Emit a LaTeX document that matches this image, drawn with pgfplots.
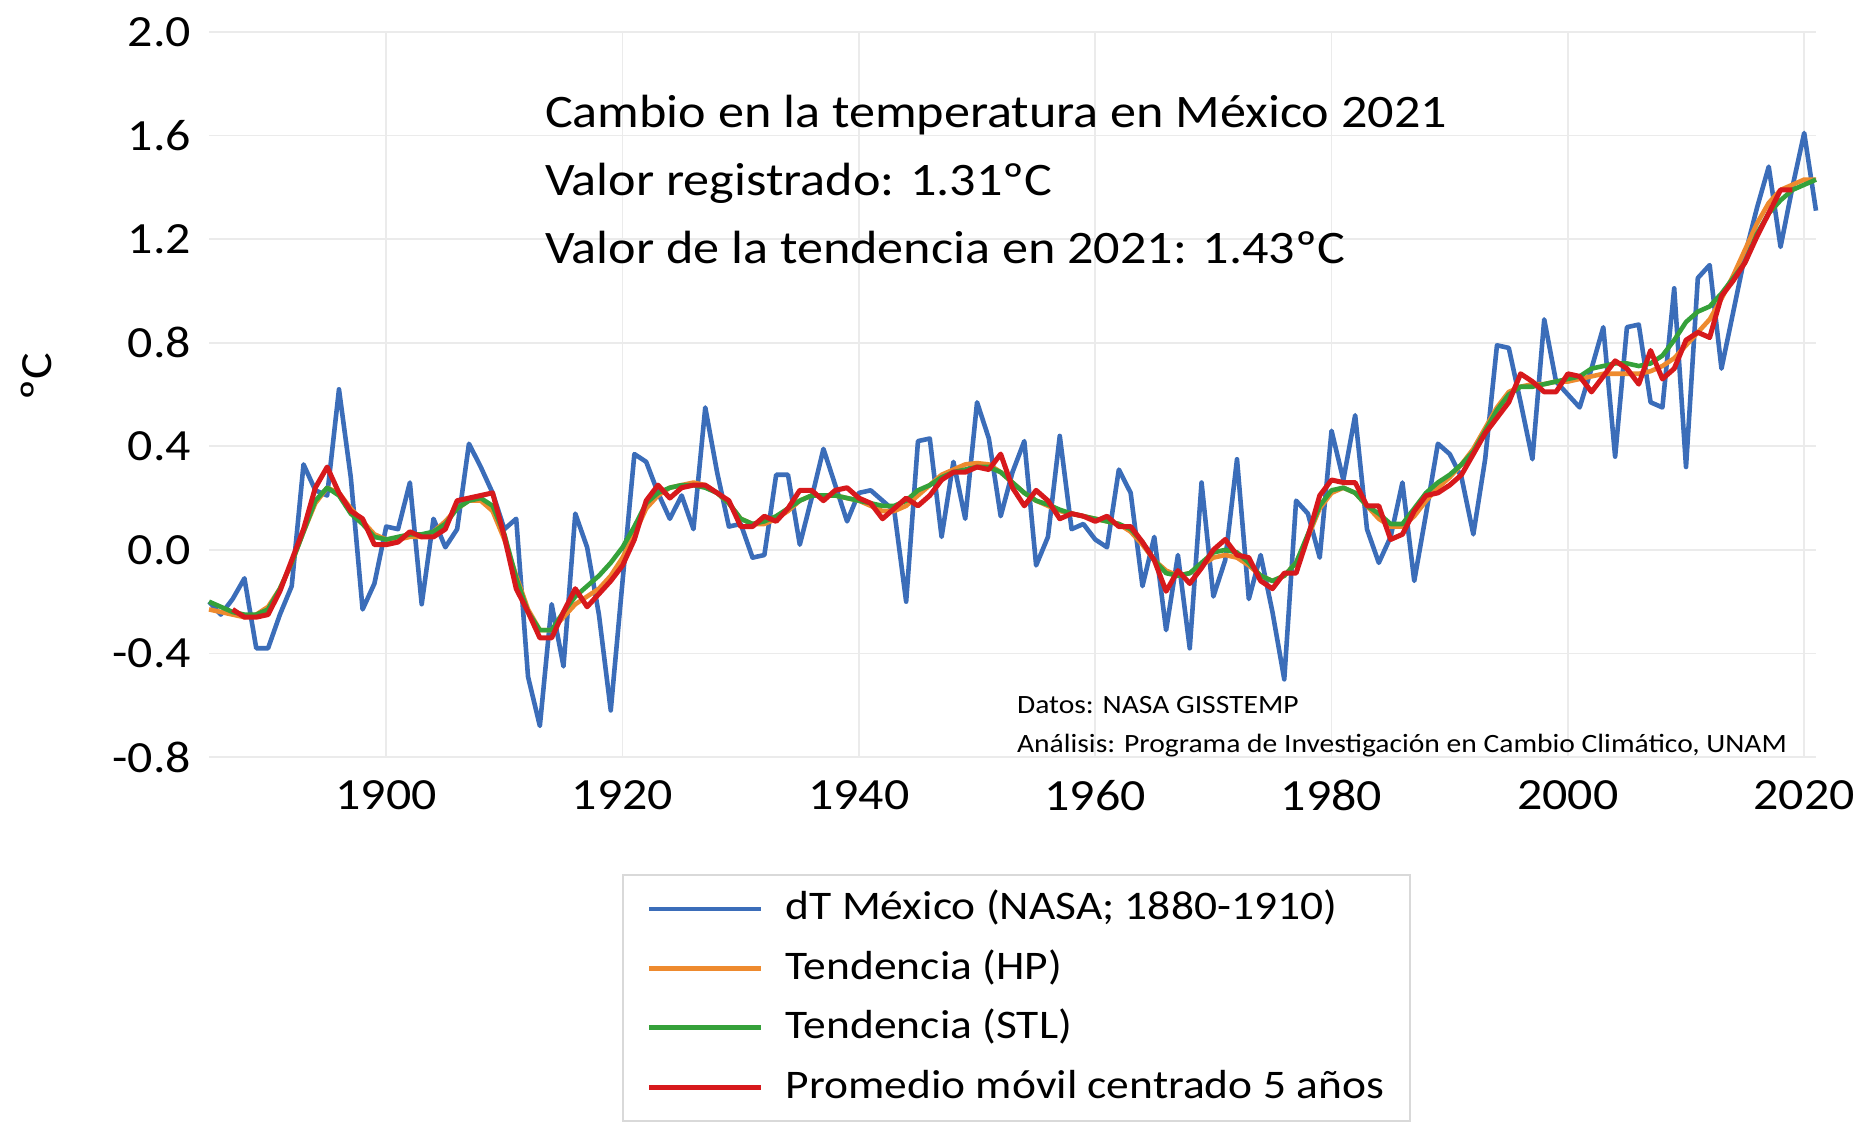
\documentclass[border=0pt]{standalone}
\usepackage{fontspec}
\setmainfont{Carlito}[FakeStretch=1.12]
\usepackage{pgfplots}
\usepackage{pgfplotstable}
\pgfplotsset{compat=1.18}
\definecolor{cblue}{HTML}{3B6DB9}
\definecolor{corange}{HTML}{EE8A2E}
\definecolor{cgreen}{HTML}{35A13A}
\definecolor{cred}{HTML}{D7191C}
\pgfplotstableread{
year dt hp stl ma
1885 -0.20 -0.23 -0.20 nan
1886 -0.25 -0.24 -0.22 nan
1887 -0.19 -0.25 -0.24 -0.23
1888 -0.11 -0.26 -0.25 -0.26
1889 -0.38 -0.25 -0.25 -0.26
1890 -0.38 -0.22 -0.23 -0.25
1891 -0.25 -0.15 -0.15 -0.16
1892 -0.14 -0.05 -0.05 -0.04
1893 0.33 0.07 0.07 0.08
1894 0.23 0.18 0.19 0.24
1895 0.21 0.24 0.24 0.32
1896 0.62 0.22 0.21 0.22
1897 0.28 0.16 0.14 0.15
1898 -0.23 0.11 0.10 0.12
1899 -0.13 0.06 0.05 0.02
1900 0.09 0.04 0.04 0.02
1901 0.08 0.04 0.05 0.03
1902 0.26 0.05 0.06 0.07
1903 -0.21 0.05 0.06 0.05
1904 0.12 0.07 0.07 0.05
1905 0.01 0.11 0.10 0.08
1906 0.08 0.16 0.16 0.19
1907 0.41 0.19 0.19 0.20
1908 0.32 0.19 0.20 0.21
1909 0.22 0.15 0.17 0.22
1910 0.08 0.04 0.06 0.05
1911 0.12 -0.10 -0.11 -0.15
1912 -0.49 -0.23 -0.24 -0.24
1913 -0.68 -0.31 -0.31 -0.34
1914 -0.21 -0.31 -0.31 -0.34
1915 -0.45 -0.26 -0.24 -0.24
1916 0.14 -0.21 -0.18 -0.15
1917 0.01 -0.18 -0.14 -0.22
1918 -0.25 -0.15 -0.10 -0.17
1919 -0.62 -0.10 -0.05 -0.12
1920 -0.12 -0.03 0.01 -0.06
1921 0.37 0.06 0.09 0.04
1922 0.34 0.16 0.18 0.19
1923 0.22 0.21 0.22 0.25
1924 0.12 0.24 0.24 0.20
1925 0.21 0.25 0.25 0.24
1926 0.08 0.26 0.25 0.25
1927 0.55 0.25 0.24 0.25
1928 0.30 0.22 0.22 0.22
1929 0.09 0.18 0.18 0.19
1930 0.10 0.12 0.12 0.09
1931 -0.03 0.10 0.10 0.09
1932 -0.02 0.10 0.11 0.13
1933 0.29 0.12 0.13 0.11
1934 0.29 0.15 0.16 0.16
1935 0.02 0.19 0.19 0.23
1936 0.20 0.21 0.21 0.23
1937 0.39 0.21 0.21 0.19
1938 0.25 0.21 0.21 0.23
1939 0.11 0.20 0.20 0.24
1940 0.22 0.19 0.19 0.20
1941 0.23 0.17 0.18 0.18
1942 0.19 0.15 0.17 0.12
1943 0.15 0.15 0.17 0.16
1944 -0.20 0.17 0.19 0.20
1945 0.42 0.21 0.23 0.17
1946 0.43 0.25 0.25 0.21
1947 0.05 0.29 0.28 0.27
1948 0.34 0.31 0.30 0.30
1949 0.12 0.33 0.31 0.30
1950 0.57 0.335 0.32 0.32
1951 0.43 0.33 0.32 0.31
1952 0.13 0.30 0.30 0.37
1953 0.30 0.26 0.26 0.24
1954 0.42 0.22 0.22 0.17
1955 -0.06 0.19 0.19 0.23
1956 0.05 0.17 0.175 0.19
1957 0.44 0.15 0.155 0.12
1958 0.08 0.14 0.14 0.14
1959 0.10 0.13 0.13 0.13
1960 0.04 0.12 0.12 0.11
1961 0.01 0.11 0.11 0.13
1962 0.31 0.10 0.10 0.09
1963 0.22 0.07 0.08 0.09
1964 -0.14 0.02 0.03 0.03
1965 0.05 -0.04 -0.04 -0.04
1966 -0.31 -0.08 -0.09 -0.16
1967 -0.02 -0.10 -0.10 -0.08
1968 -0.38 -0.09 -0.09 -0.13
1969 0.26 -0.06 -0.05 -0.07
1970 -0.18 -0.03 -0.01 0.00
1971 -0.04 -0.02 0.00 0.04
1972 0.35 -0.03 -0.01 -0.02
1973 -0.19 -0.06 -0.05 -0.03
1974 -0.02 -0.10 -0.10 -0.12
1975 -0.24 -0.12 -0.12 -0.15
1976 -0.50 -0.10 -0.10 -0.09
1977 0.19 -0.05 -0.05 -0.09
1978 0.14 0.05 0.06 0.05
1979 -0.03 0.16 0.17 0.21
1980 0.46 0.22 0.23 0.27
1981 0.27 0.24 0.24 0.26
1982 0.52 0.22 0.22 0.26
1983 0.08 0.17 0.17 0.17
1984 -0.05 0.12 0.14 0.17
1985 0.05 0.09 0.10 0.04
1986 0.26 0.09 0.10 0.06
1987 -0.12 0.13 0.16 0.15
1988 0.14 0.19 0.22 0.21
1989 0.41 0.24 0.26 0.22
1990 0.37 0.28 0.29 0.25
1991 0.28 0.33 0.33 0.29
1992 0.06 0.39 0.38 0.37
1993 0.35 0.47 0.46 0.45
1994 0.79 0.55 0.54 0.51
1995 0.78 0.61 0.60 0.57
1996 0.57 0.63 0.63 0.68
1997 0.35 0.64 0.63 0.65
1998 0.89 0.64 0.64 0.61
1999 0.65 0.65 0.65 0.61
2000 0.60 0.65 0.66 0.68
2001 0.55 0.66 0.67 0.67
2002 0.70 0.67 0.70 0.61
2003 0.86 0.68 0.71 0.67
2004 0.36 0.68 0.72 0.73
2005 0.86 0.68 0.72 0.70
2006 0.87 0.68 0.71 0.64
2007 0.57 0.69 0.72 0.77
2008 0.55 0.71 0.75 0.66
2009 1.01 0.74 0.81 0.70
2010 0.32 0.79 0.88 0.81
2011 1.05 0.84 0.92 0.84
2012 1.10 0.89 0.94 0.82
2013 0.70 0.97 0.99 0.98
2014 0.92 1.06 1.05 1.04
2015 1.14 1.16 1.11 1.11
2016 1.32 1.26 1.22 1.21
2017 1.48 1.34 1.30 1.30
2018 1.17 1.39 1.35 1.39
2019 1.40 1.41 1.39 1.39
2020 1.61 1.43 1.41 nan
2021 1.31 1.43 1.43 nan
}\datatable
\begin{document}
\begin{tikzpicture}
\useasboundingbox (0pt,0pt) rectangle (935pt,560.5pt);
\clip (0pt,0pt) rectangle (935pt,560.5pt);
\begin{axis}[
  scale only axis,
  width=803.5pt, height=362.5pt,
  at={(104.5pt,182pt)}, anchor=south west,
  xmin=1885, xmax=2021,
  ymin=-0.8, ymax=2.0,
  xtick={1900,1920,1940,1960,1980,2000,2020},
  xticklabels={1900,1920,1940,1960,1980,2000,2020},
  ytick={-0.8,-0.4,0,0.4,0.8,1.2,1.6,2.0},
  yticklabels={-0.8,-0.4,0.0,0.4,0.8,1.2,1.6,2.0},
  axis line style={draw=none},
  major tick length=0pt,
  grid=major,
  major grid style={color=black!8, line width=0.9pt},
  tick label style={font=\fontsize{22.3}{26}\selectfont, text=black},
  xticklabel style={yshift=-8pt},
  yticklabel style={xshift=-5.5pt},
  ylabel={ºC},
  every axis y label/.style={at={(axis description cs:-0.1077,0.525)}, rotate=90, anchor=center, font=\fontsize{22.3}{26}\selectfont},
  clip=false,
  legend cell align=left,
  legend image code/.code={\draw[#1] (0pt,0pt) -- (56pt,0pt);},
  legend style={
    at={(axis description cs:0.257,-0.1614)}, anchor=north west,
    draw=black!15, line width=0.8pt,
    font=\fontsize{20.3}{24}\selectfont,
    inner xsep=12pt, inner ysep=5.5pt,
    row sep=6.7pt, column sep=10pt,
    nodes={inner sep=1pt, text height=16pt, text depth=5pt},
  },
]
\addplot[cblue, line width=2.3pt, line join=round] table[x=year, y=dt] {\datatable};
\addlegendentry{dT México (NASA; 1880-1910)}
\addplot[corange, line width=2.3pt, line join=round] table[x=year, y=hp] {\datatable};
\addlegendentry{Tendencia (HP)}
\addplot[cgreen, line width=2.3pt, line join=round] table[x=year, y=stl] {\datatable};
\addlegendentry{Tendencia (STL)}
\addplot[cred, line width=2.5pt, line join=round] table[x=year, y=ma] {\datatable};
\addlegendentry{Promedio móvil centrado 5 años}
\end{axis}
\node[anchor=base west, font=\fontsize{23.3}{28}\selectfont] at (269pt,496.5pt) {Cambio en la temperatura en México 2021};
\node[anchor=base west, font=\fontsize{23.3}{28}\selectfont] at (269pt,462.5pt) {Valor registrado: 1.31ºC};
\node[anchor=base west, font=\fontsize{23.3}{28}\selectfont] at (269pt,428.5pt) {Valor de la tendencia en 2021: 1.43ºC};
\node[anchor=base west, font=\fontsize{13.2}{16}\selectfont] at (505pt,204pt) {Datos: NASA GISSTEMP};
\node[anchor=base west, font=\fontsize{13.2}{16}\selectfont] at (505pt,184.5pt) {Análisis: Programa de Investigación en Cambio Climático, UNAM};
\end{tikzpicture}
\end{document}
